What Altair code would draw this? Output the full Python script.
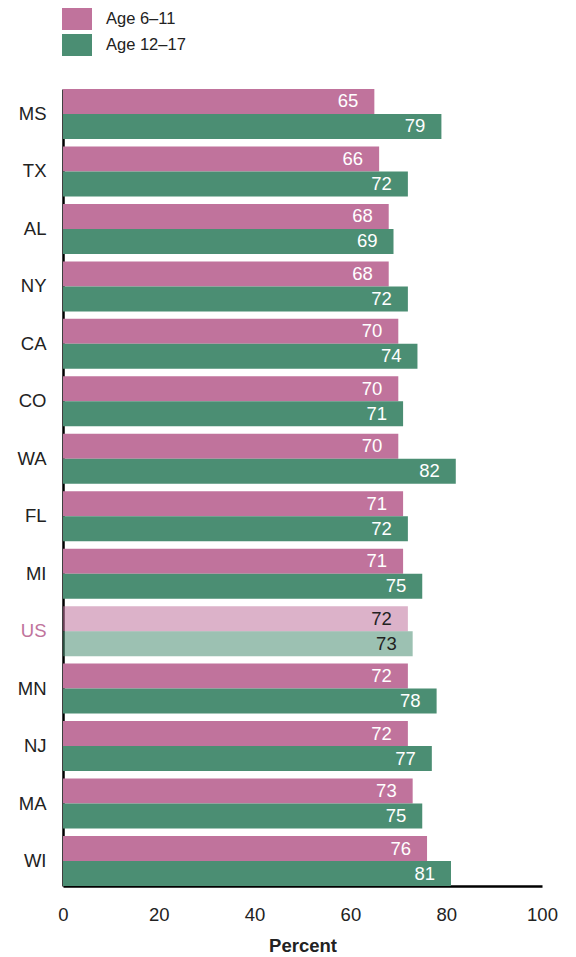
import altair as alt
import pandas as pd

states = ["MS", "TX", "AL", "NY", "CA", "CO", "WA", "FL", "MI", "US", "MN", "NJ", "MA", "WI"]
age_6_11 = [65, 66, 68, 68, 70, 70, 70, 71, 71, 72, 72, 72, 73, 76]
age_12_17 = [79, 72, 69, 72, 74, 71, 82, 72, 75, 73, 78, 77, 75, 81]
groups = ["Age 6–11", "Age 12–17"]
x_ticks = [0, 20, 40, 60, 80, 100]

rows = []
for s, a, b in zip(states, age_6_11, age_12_17):
    rows.append({"state": s, "group": groups[0], "value": a, "us": s == "US"})
    rows.append({"state": s, "group": groups[1], "value": b, "us": s == "US"})
df = pd.DataFrame(rows)

FONT = "Liberation Sans"
PINK = "#c0739c"
GREEN = "#4b8e73"

y_enc = alt.Y(
    "state:N",
    sort=states,
    scale=alt.Scale(paddingInner=0.13, paddingOuter=0),
    axis=alt.Axis(
        title=None,
        ticks=False,
        labelPadding=17,
        labelFontSize=18.5,
        labelFont=FONT,
        labelColor=alt.ExprRef("datum.value == 'US' ? '#c0739c' : '#222222'"),
        domainColor="#000000",
        domainWidth=2.5,
    ),
)
x_enc = alt.X(
    "value:Q",
    scale=alt.Scale(domain=[0, 100], nice=False),
    axis=alt.Axis(
        values=x_ticks,
        title="Percent",
        titleFont=FONT,
        titleFontSize=18.5,
        titleFontWeight="bold",
        titleColor="#222222",
        titlePadding=13,
        ticks=False,
        grid=False,
        labelFlush=False,
        labelPadding=19,
        labelFontSize=18.5,
        labelFont=FONT,
        labelColor="#222222",
        domainColor="#000000",
        domainWidth=2.5,
    ),
)
yoff = alt.YOffset("group:N", sort=groups, scale=alt.Scale(paddingInner=0, paddingOuter=0))

bars = alt.Chart(df).mark_bar(cornerRadius=0).encode(
    x=x_enc,
    y=y_enc,
    yOffset=yoff,
    color=alt.Color(
        "group:N",
        sort=groups,
        scale=alt.Scale(domain=groups, range=[PINK, GREEN]),
        legend=alt.Legend(
            title=None,
            orient="none",
            legendX=-1,
            legendY=-85,
            symbolType="M-1,-0.733H1V0.733H-1Z",
            symbolSize=900,
            symbolStrokeWidth=0,
            symbolOpacity=1,
            labelFont=FONT,
            labelFontSize=16.5,
            labelColor="#222222",
            labelOffset=14,
            rowPadding=0,
            padding=0,
        ),
    ),
    opacity=alt.condition(alt.datum.us, alt.value(0.55), alt.value(1.0)),
)

labels = alt.Chart(df).mark_text(
    align="right", baseline="middle", dx=-16, fontSize=18.5, font=FONT
).encode(
    x="value:Q",
    y=alt.Y("state:N", sort=states),
    yOffset=alt.YOffset("group:N", sort=groups),
    text=alt.Text("value:Q"),
    color=alt.condition(alt.datum.us, alt.value("#222222"), alt.value("#ffffff")),
)

chart = (
    alt.layer(bars, labels)
    .properties(
        width=479,
        height=797,
        background="#ffffff",
        autosize=alt.AutoSizeParams(type="none"),
        padding={"left": 55, "top": 81, "right": 20, "bottom": 70},
    )
    .configure_view(strokeWidth=0)
)

chart.save("out.html", embed_options={"renderer": "svg", "actions": False})
